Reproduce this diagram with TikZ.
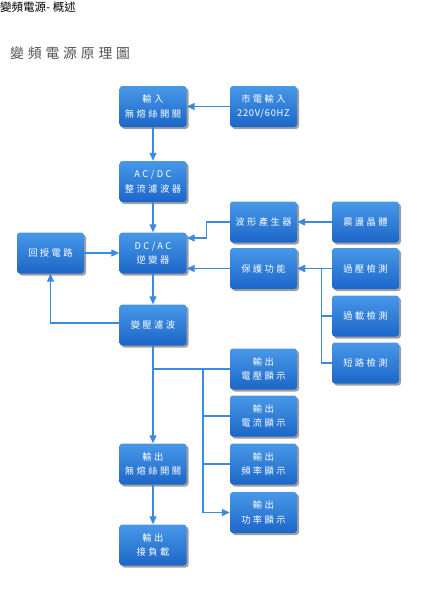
\documentclass[tikz,border=0pt]{standalone}
\usepackage{fontspec}
\usetikzlibrary{arrows.meta,shadows,shadings}
\newfontfamily\cjktitle{Noto Sans CJK TC}
\newfontfamily\cjksub[LetterSpace=28]{Noto Sans CJK TC}
\newfontfamily\boxfont[LetterSpace=26]{Noto Sans CJK TC}
\newfontfamily\latfont[LetterSpace=8]{Noto Sans CJK TC}
\definecolor{boxtop}{RGB}{72,152,232}
\definecolor{boxbot}{RGB}{28,102,200}
\definecolor{linec}{RGB}{58,138,226}
\definecolor{subgrey}{RGB}{80,80,80}
\tikzset{
  blk/.style={rectangle, rounded corners=3pt, minimum width=67pt, minimum height=41pt,
    top color=boxtop, bottom color=boxbot, draw=none, text=white, align=center,
    font=\boxfont\fontsize{9.3pt}{14.5pt}\selectfont, inner sep=1pt,
    drop shadow={shadow xshift=2pt, shadow yshift=-2pt, opacity=.5, fill=black!75}},
  ln/.style={draw=linec, line width=1.3pt},
  arr/.style={ln, -{Triangle[length=8pt,width=7pt]}}
}
\begin{document}
\begin{tikzpicture}[x=1pt,y=-1pt]
\useasboundingbox (0,0) rectangle (426,608);
\node[anchor=north west, inner sep=0pt, font=\cjktitle\fontsize{11.5pt}{13pt}\selectfont] (t1) at (0,1.5) {變頻電源- 概述};
\node[anchor=west, inner sep=0pt, text=subgrey, font=\cjksub\fontsize{13.8pt}{15pt}\selectfont] (t2) at (10,53) {變頻電源原理圖};

\node[blk] (in1) at (153,106.5) {輸入\\無熔絲開關};
\node[blk] (mains) at (263.5,106.5) {市電輸入\\{\latfont 220V/60HZ}};
\node[blk] (acdc) at (153,181.5) {AC/DC\\整流濾波器};
\node[blk] (wave) at (263.5,222) {波形產生器};
\node[blk] (osc) at (365.5,222) {震盪晶體};
\node[blk] (fb) at (50.5,253) {回授電路};
\node[blk] (dcac) at (153,253) {DC/AC\\逆變器};
\node[blk] (prot) at (263.5,268.5) {保護功能};
\node[blk] (ov) at (365.5,268.5) {過壓檢測};
\node[blk] (ol) at (365.5,316) {過載檢測};
\node[blk] (sc) at (365.5,363) {短路檢測};
\node[blk] (tf) at (153,325) {變壓濾波};
\node[blk] (vdisp) at (263.5,369) {輸出\\電壓顯示};
\node[blk] (idisp) at (263.5,416) {輸出\\電流顯示};
\node[blk] (fdisp) at (263.5,464) {輸出\\頻率顯示};
\node[blk] (pdisp) at (263.5,512.5) {輸出\\功率顯示};
\node[blk] (out) at (153,464) {輸出\\無熔絲開關};
\node[blk] (load) at (153,545) {輸出\\接負載};

\draw[arr] (mains.west) -- (in1.east);
\draw[arr] (in1.south) -- (acdc.north);
\draw[arr] (acdc.south) -- (dcac.north);
\draw[arr] (fb.east) -- (dcac.west);
\draw[arr] (osc.west) -- (wave.east);
\draw[arr] (wave.west) -- ++(-23,0) |- ([yshift=15pt]dcac.east);
\draw[arr] (prot.west) -- (prot.west -| dcac.east);
\draw[arr] (ov.west) -- (prot.east);
\draw[arr] (sc.west) -- ++(-10.5,0) |- (prot.east);
\draw[ln] (ol.west) -- ++(-10.5,0);
\draw[arr] (dcac.south) -- (tf.north);
\draw[arr] ([yshift=2pt]tf.west) -| (fb.south);
\draw[arr] (tf.south) -- (out.north);
\draw[arr] (out.south) -- (load.north);
\coordinate (j1) at (tf.south |- vdisp.west);
\coordinate (bus2) at (203,369);
\draw[ln] (j1) -- (vdisp.west);
\draw[arr] (bus2) |- (pdisp.west);
\draw[ln] (bus2 |- idisp.west) -- (idisp.west);
\draw[ln] (bus2 |- fdisp.west) -- (fdisp.west);
\end{tikzpicture}
\end{document}
